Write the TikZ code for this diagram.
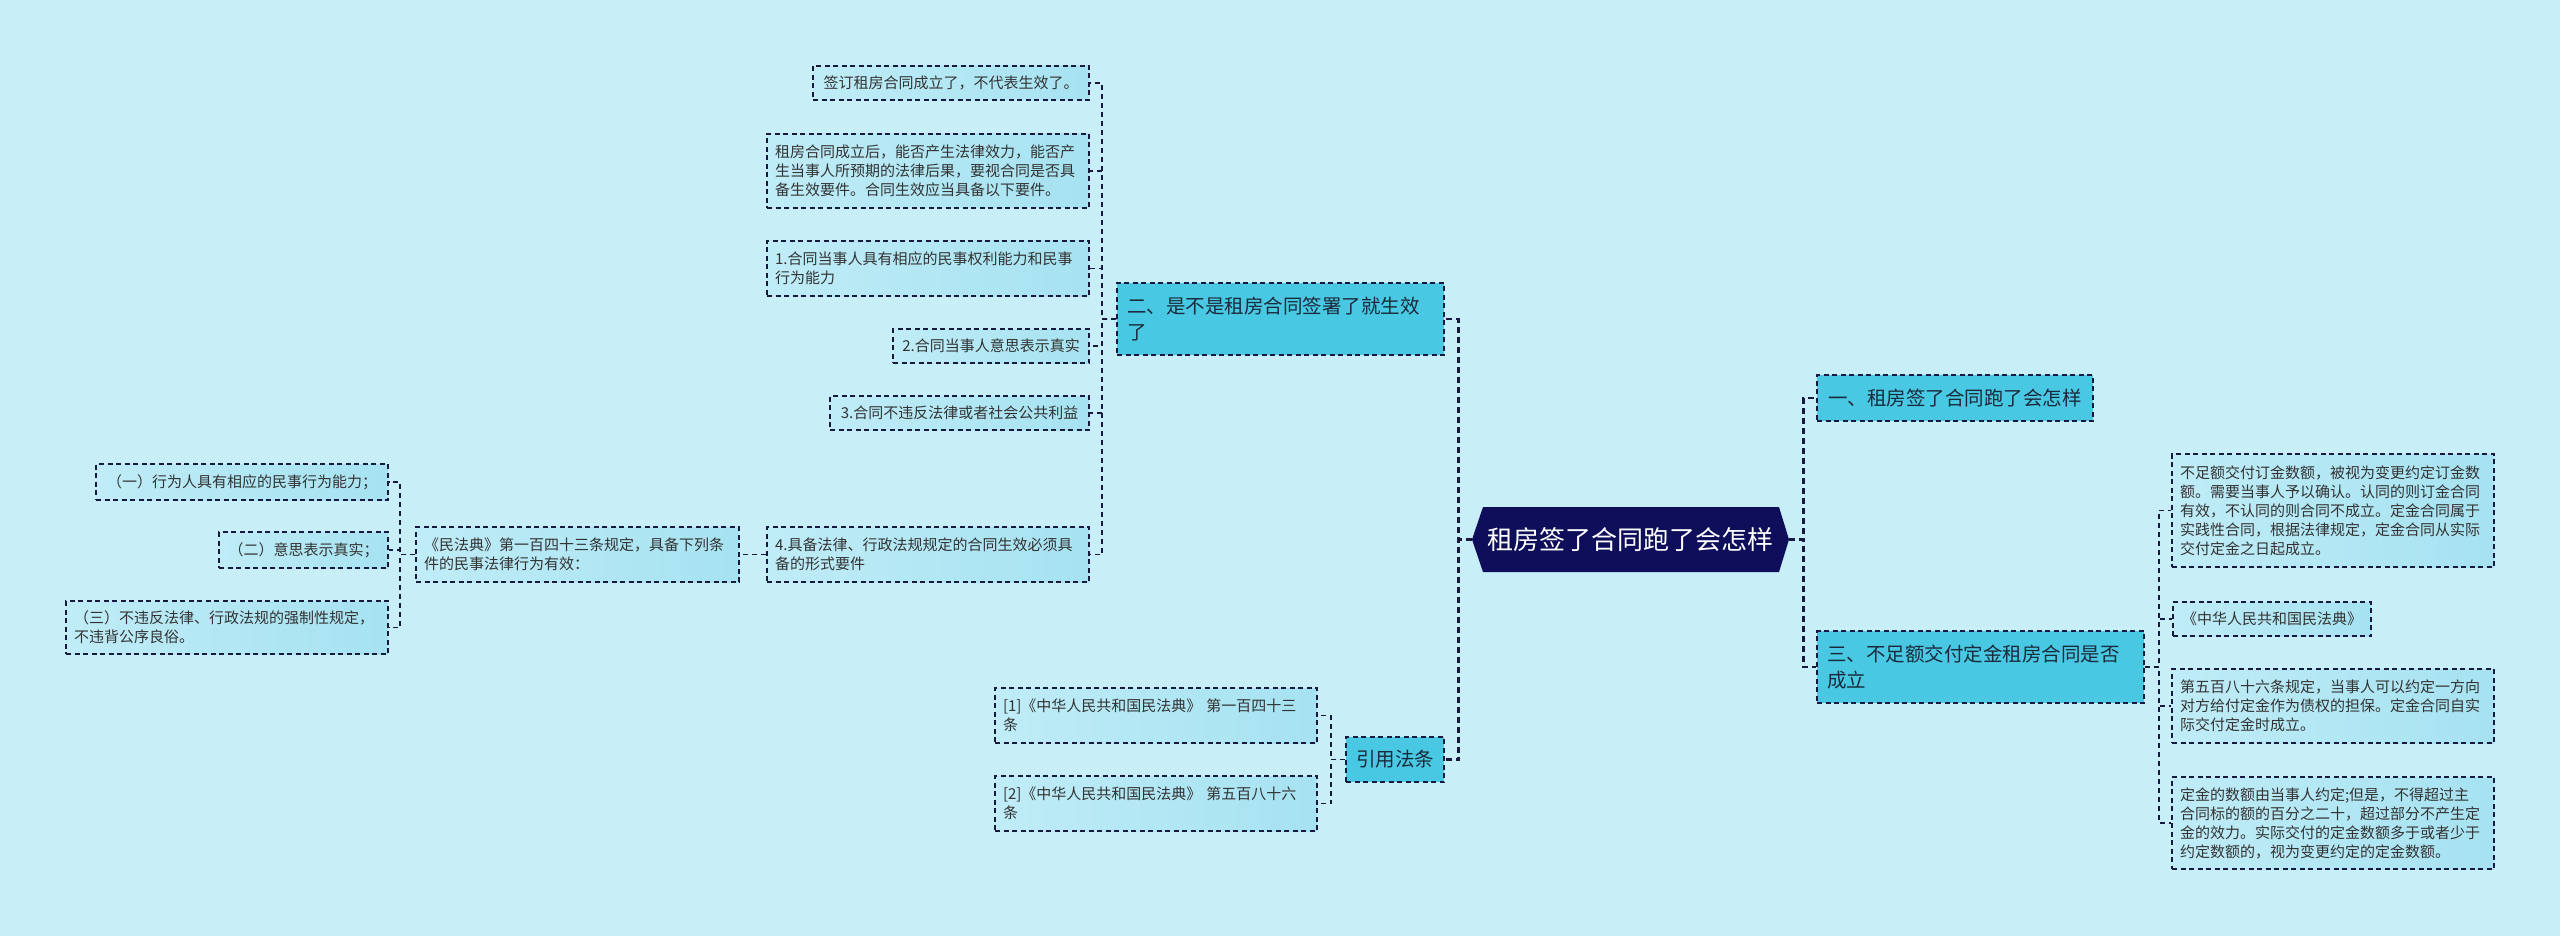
\documentclass[tikz,border=0pt]{standalone}
\usepackage{fontspec}
\setmainfont{Noto Sans CJK SC}
\definecolor{bg}{HTML}{C8EFF7}
\definecolor{leafL}{HTML}{BFECF7}
\definecolor{leafR}{HTML}{A6E2F1}
\definecolor{branchfill}{HTML}{48C8E3}
\definecolor{rootfill}{HTML}{0E0E5A}
\definecolor{edgec}{HTML}{17193F}
\definecolor{leaftext}{HTML}{333333}
\definecolor{branchtext}{HTML}{1B2A3A}
\begin{document}
\begin{tikzpicture}[x=1pt,y=-1pt,
 leaf/.style={draw=edgec, line width=1.4pt, dash pattern=on 5pt off 3.5pt, left color=leafL, right color=leafR, text=leaftext, font=\fontsize{15}{19}\selectfont, align=left, inner xsep=8pt, inner ysep=0pt},
 branch/.style={draw=edgec, line width=1.4pt, dash pattern=on 5pt off 3.5pt, fill=branchfill, text=branchtext, font=\fontsize{19.5}{26}\selectfont, align=left, inner xsep=10pt, inner ysep=0pt},
 conn/.style={draw=edgec, line width=1.8pt, dash pattern=on 5pt off 4pt},
 mainconn/.style={draw=edgec, line width=2.8pt, dash pattern=on 6pt off 4pt},
]
\useasboundingbox (0,0) rectangle (2560,936);
\fill[bg] (0,0) rectangle (2560,936);

% root
\fill[rootfill] (1483,507) -- (1779,507) -- (1789,539.5) -- (1779,572) -- (1483,572) -- (1472,539.5) -- cycle;
\node[minimum width=317, minimum height=65, inner sep=0pt, text=white, font=\fontsize{26}{30}\selectfont] (root) at (1630.5,539.5) {租房签了合同跑了会怎样};

% branches
\node[branch, minimum width=327, minimum height=72, text width=307] (B2) at (1280.5,319) {二、是不是租房合同签署了就生效\\了};
\node[branch, minimum width=98, minimum height=45, align=center] (Bref) at (1395,759.5) {引用法条};
\node[branch, minimum width=276, minimum height=46, align=center] (B1) at (1955,398) {一、租房签了合同跑了会怎样};
\node[branch, minimum width=327, minimum height=72, text width=307] (B3) at (1980.5,667) {三、不足额交付定金租房合同是否\\成立};

% left upper leaves
\node[leaf, minimum width=276, minimum height=34, align=center] (L1) at (951,83) {签订租房合同成立了，不代表生效了。};
\node[leaf, minimum width=322, minimum height=74, text width=306] (L2) at (928,171) {租房合同成立后，能否产生法律效力，能否产\\生当事人所预期的法律后果，要视合同是否具\\备生效要件。合同生效应当具备以下要件。};
\node[leaf, minimum width=322, minimum height=55, text width=306] (L3) at (928,268.5) {1.合同当事人具有相应的民事权利能力和民事\\行为能力};
\node[leaf, minimum width=196, minimum height=34, align=center] (L4) at (991,346) {2.合同当事人意思表示真实};
\node[leaf, minimum width=259, minimum height=34, align=center] (L5) at (959.5,413) {3.合同不违反法律或者社会公共利益};
\node[leaf, minimum width=322, minimum height=55, text width=306] (L6) at (928,554.5) {4.具备法律、行政法规规定的合同生效必须具\\备的形式要件};

% civil code node and its children
\node[leaf, minimum width=323, minimum height=55, text width=307] (M) at (577.5,554.5) {《民法典》第一百四十三条规定，具备下列条\\件的民事法律行为有效：};
\node[leaf, minimum width=292, minimum height=36, align=center] (S1) at (242,482) {（一）行为人具有相应的民事行为能力；};
\node[leaf, minimum width=169, minimum height=36, align=center] (S2) at (303.5,550) {（二）意思表示真实；};
\node[leaf, minimum width=322, minimum height=53, text width=306] (S3) at (227,627.5) {（三）不违反法律、行政法规的强制性规定，\\不违背公序良俗。};

% citations
\node[leaf, minimum width=322, minimum height=55, text width=306] (C1) at (1156,715.5) {[1]《中华人民共和国民法典》 第一百四十三\\条};
\node[leaf, minimum width=322, minimum height=55, text width=306] (C2) at (1156,803.5) {[2]《中华人民共和国民法典》 第五百八十六\\条};

% right leaves
\node[leaf, minimum width=322, minimum height=113, text width=306] (RA) at (2333,510.5) {不足额交付订金数额，被视为变更约定订金数\\额。需要当事人予以确认。认同的则订金合同\\有效，不认同的则合同不成立。定金合同属于\\实践性合同，根据法律规定，定金合同从实际\\交付定金之日起成立。};
\node[leaf, minimum width=198, minimum height=34, align=center] (RB) at (2272,619) {《中华人民共和国民法典》};
\node[leaf, minimum width=322, minimum height=74, text width=306] (RC) at (2333,706) {第五百八十六条规定，当事人可以约定一方向\\对方给付定金作为债权的担保。定金合同自实\\际交付定金时成立。};
\node[leaf, minimum width=322, minimum height=92, text width=306] (RD) at (2333,823) {定金的数额由当事人约定;但是，不得超过主\\合同标的额的百分之二十，超过部分不产生定\\金的效力。实际交付的定金数额多于或者少于\\约定数额的，视为变更约定的定金数额。};

% main connectors
\draw[mainconn] (root.west) -- ++(-13,0) |- (B2.east);
\draw[mainconn] (root.west) -- ++(-13,0) |- (Bref.east);
\draw[mainconn] (root.east) -- ++(14,0) |- (B1.west);
\draw[mainconn] (root.east) -- ++(14,0) |- (B3.west);

% secondary connectors
\foreach \c in {L1,L2,L3,L4,L5,L6}{\draw[conn] (B2.west) -- ++(-14,0) |- (\c.east);}
\draw[conn] (L6.west) -- (M.east);
\foreach \c in {S1,S2,S3}{\draw[conn] (M.west) -- ++(-15,0) |- (\c.east);}
\foreach \c in {C1,C2}{\draw[conn] (Bref.west) -- ++(-14,0) |- (\c.east);}
\foreach \c in {RA,RB,RC,RD}{\draw[conn] (B3.east) -- ++(14,0) |- (\c.west);}
\end{tikzpicture}
\end{document}
